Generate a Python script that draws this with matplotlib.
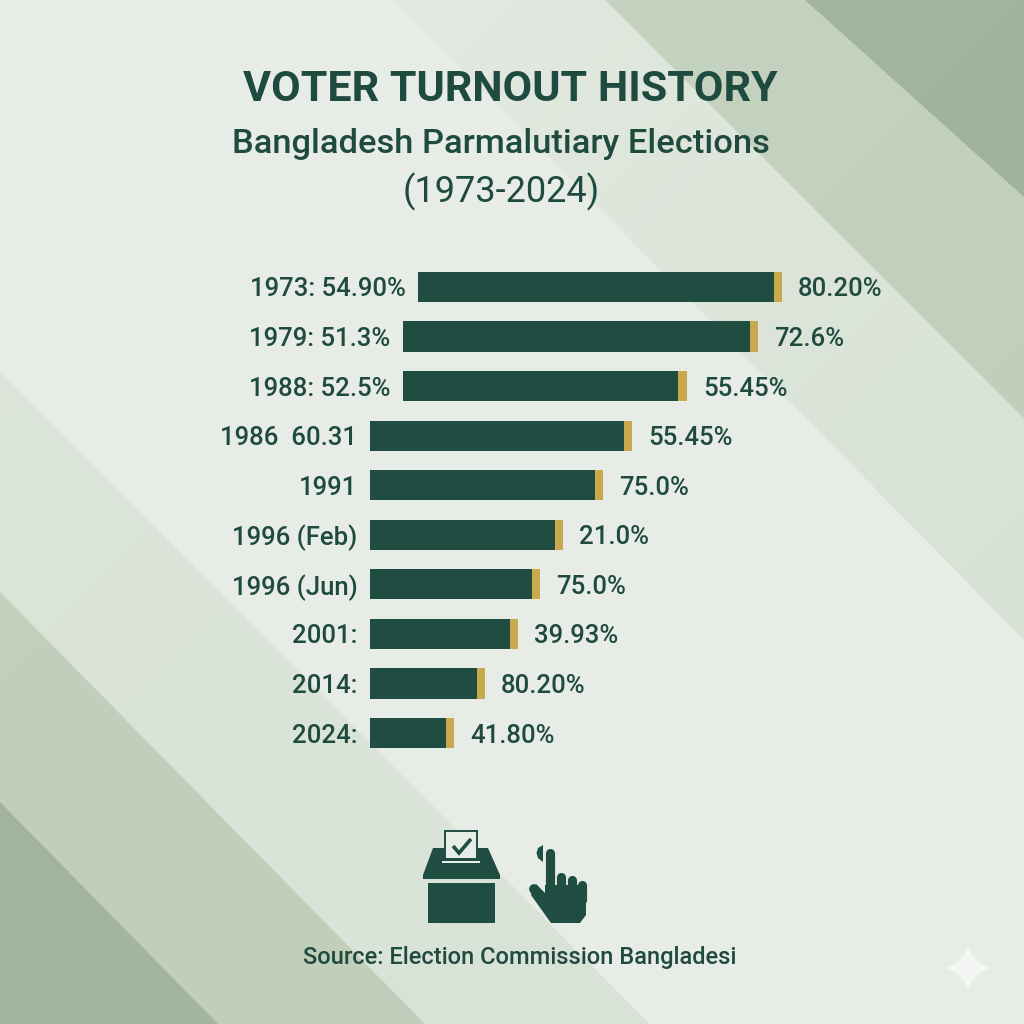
import numpy as np
import matplotlib
matplotlib.use("Agg")
import matplotlib.pyplot as plt
from matplotlib.colors import to_rgb
from matplotlib.patches import Polygon, Rectangle, PathPatch
from matplotlib.path import Path

labels = ["1973: 54.90%", "1979: 51.3%", "1988: 52.5%", "1986  60.31", "1991",
          "1996 (Feb)", "1996 (Jun)", "2001:", "2014:", "2024:"]
value_labels = ["80.20%", "72.6%", "55.45%", "55.45%", "75.0%",
                "21.0%", "75.0%", "39.93%", "80.20%", "41.80%"]
bar_starts = [418, 403, 403, 370, 370, 370, 370, 370, 370, 370]
dark_ends = [774, 750, 678, 624, 595, 555, 532, 510, 477, 446]
gold_ends = [782, 758, 687, 632, 603, 563, 540, 518, 485, 454]

DARK = "#1f4d42"
GOLD = "#c9a94e"
TEXT = "#1f4a40"
BASE = "#e7ece6"
FONT = "Roboto"

fig = plt.figure(figsize=(10.24, 10.24), dpi=100, facecolor=BASE)

# Full-canvas layer, in reference pixels
bg = fig.add_axes([0, 0, 1, 1])
bg.set_xlim(0, 1024)
bg.set_ylim(1024, 0)
bg.axis("off")


def band(pts, start, end, z):
    """Diagonal background band, shaded along the band's direction."""
    poly = Polygon(pts, closed=True, fc="none", ec="none", transform=bg.transData)
    bg.add_patch(poly)
    xx, yy = np.meshgrid(np.linspace(0, 1, 128), np.linspace(0, 1, 128))
    t = ((xx + yy) / 2)[..., None]
    img = np.array(to_rgb(start)) * (1 - t) + np.array(to_rgb(end)) * t
    im = bg.imshow(img, extent=(0, 1024, 1024, 0), aspect="auto", zorder=z, interpolation="bilinear")
    im.set_clip_path(poly)


band([(395, 0), (1024, 0), (1024, 640)], "#e6ebe4", "#d4dfd1", 1)
band([(605, 0), (1024, 0), (1024, 418)], "#c9d6c5", "#bdccb8", 1.1)
band([(805, 0), (1024, 0), (1024, 197)], "#a3b69e", "#9fb29a", 1.2)
band([(0, 372), (650, 1024), (0, 1024)], "#dde5db", "#d8e2d6", 1)
band([(0, 592), (425, 1024), (0, 1024)], "#c2d0bd", "#bfcdb9", 1.1)
band([(0, 802), (218, 1024), (0, 1024)], "#a2b49e", "#a5b6a0", 1.2)
bg.set_xlim(0, 1024)
bg.set_ylim(1024, 0)

# Bars
ax = fig.add_axes([0, 1 - (733 + 24.8) / 1024, 1, (733 - 287 + 49.6) / 1024])
ax.patch.set_alpha(0)
ax.axis("off")
ax.set_xlim(0, 1024)
ax.set_ylim(len(labels) - 0.5, -0.5)
y = list(range(len(labels)))
dark_w = [e - s for s, e in zip(bar_starts, dark_ends)]
gold_w = [g - e for e, g in zip(dark_ends, gold_ends)]
ax.barh(y, dark_w, left=bar_starts, height=0.61, color=DARK, zorder=3)
ax.barh(y, gold_w, left=dark_ends, height=0.61, color=GOLD, zorder=3)
for i in y:
    ax.annotate(labels[i], (bar_starts[i], i), xytext=(-9, 0), textcoords="offset points",
                ha="right", va="center_baseline", fontsize=18.5, fontweight="medium",
                color=TEXT, family=FONT)
    ax.annotate(value_labels[i], (gold_ends[i], i), xytext=(11.5, 0), textcoords="offset points",
                ha="left", va="center_baseline", fontsize=18.5, fontweight="medium",
                color=TEXT, family=FONT)

# Titles
bg.text(510, 101, "VOTER TURNOUT HISTORY", ha="center", va="baseline", fontsize=31,
        fontweight="bold", color=TEXT, family=FONT, zorder=5)
bg.text(501, 153, "Bangladesh Parmalutiary Elections", ha="center", va="baseline", fontsize=24.8,
        fontweight="medium", color=TEXT, family=FONT, zorder=5)
bg.text(501, 202, "(1973-2024)", ha="center", va="baseline", fontsize=26,
        color=TEXT, family=FONT, zorder=5)
bg.text(520, 964, "Source: Election Commission Bangladesi", ha="center", va="baseline", fontsize=17,
        fontweight="medium", color=TEXT, family=FONT, zorder=5)

# Ballot box icon
bg.add_patch(Rectangle((428, 883), 67, 40, fc=DARK, ec="none", zorder=4))
bg.add_patch(Polygon([(433, 848), (488, 848), (500, 875), (500, 879), (423, 879), (423, 875)],
                     closed=True, fc=DARK, ec="none", zorder=4))
bg.add_patch(Rectangle((445, 831), 32, 28, fc=BASE, ec=DARK, lw=1.4, zorder=5))
bg.add_patch(Rectangle((442, 860.5), 38, 2.5, fc=BASE, ec="none", zorder=5))
bg.plot([453, 459, 471], [846, 853, 839], color=DARK, lw=2.6, solid_capstyle="butt",
        solid_joinstyle="miter", zorder=6)

# Hand icon
for fx, ftop in [(549.5, 852.5), (560.5, 876.5), (571.5, 879.5), (582, 884.5)]:
    bg.plot([fx, fx], [ftop, 900], color=DARK, lw=6.6, solid_capstyle="round", zorder=4)
bg.add_patch(Polygon([(545, 885), (586, 885), (586, 915), (580, 923), (551, 923), (531, 895), (536, 884), (545, 893)],
                     closed=True, fc=DARK, ec="none", zorder=4))
bg.plot([534, 550], [889, 912], color=DARK, lw=7, solid_capstyle="round", zorder=4)
bg.add_patch(Polygon([(543, 845), (538, 848), (536.5, 853), (538, 858), (543, 862)],
                     closed=True, fc=DARK, ec="none", zorder=4))

# Sparkle mark
cx, cy, r, k = 968, 968, 24, 4
star = Path([(cx, cy - r), (cx + k, cy - k), (cx + r, cy), (cx + k, cy + k), (cx, cy + r),
             (cx - k, cy + k), (cx - r, cy), (cx - k, cy - k), (cx, cy - r)],
            [Path.MOVETO] + [Path.CURVE3] * 8)
bg.add_patch(PathPatch(star, fc="#f3f6f2", ec="none", zorder=4))

fig.savefig("out.png", dpi=100, facecolor=fig.get_facecolor())
